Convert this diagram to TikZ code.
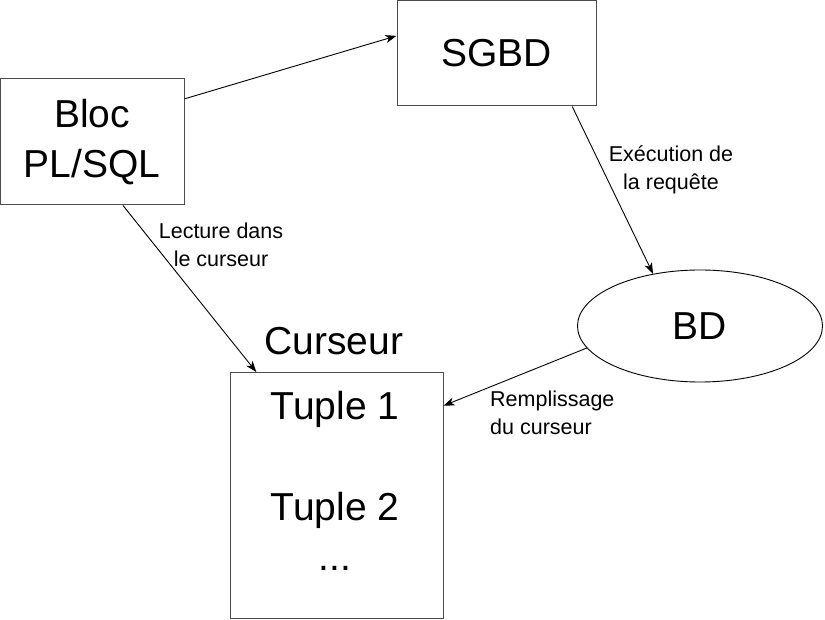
\documentclass[tikz,border=0pt]{standalone}
\usepackage{fontspec}
\setmainfont{Liberation Sans}
\usetikzlibrary{shapes.geometric,arrows.meta}

\tikzset{
  blocbox/.style={draw=black!70, line width=1pt, rectangle, inner sep=0pt, align=center,
    font=\fontsize{39}{50}\selectfont},
  bdshape/.style={draw=black, line width=0.9pt, ellipse, inner sep=0pt,
    font=\fontsize{39}{50}\selectfont},
  bigtext/.style={inner sep=0pt, font=\fontsize{39}{50}\selectfont},
  edgelabel/.style={inner sep=0pt, font=\fontsize{21.5}{27.5}\selectfont},
  fleche/.style={draw=black, line width=0.9pt, -{Stealth[length=11pt,width=8pt,inset=3pt]}}
}

\begin{document}
\begin{tikzpicture}[x=1pt,y=-1pt]
      % Page frame
      \useasboundingbox (0,0) rectangle (825,620);

      % Boxes
      \node[blocbox, minimum width=184pt, minimum height=126pt] (bloc) at (92,142) {Bloc\\PL/SQL};
      \node[blocbox, minimum width=199pt, minimum height=105pt] (sgbd) at (496.5,53.5) {SGBD};
      \node[blocbox, minimum width=213pt, minimum height=246pt] (cur) at (336.5,495.5) {};

      % Database
      \node[bdshape, minimum width=245pt, minimum height=112pt] (bd) at (700,326) {BD};

      % Cursor title and tuples
      \node[bigtext, anchor=base] (curtitle) at (334,355) {Curseur};
      \node[bigtext, anchor=base] (tuple1) at (335,420) {Tuple 1};
      \node[bigtext, anchor=base] (tuple2) at (335,520) {Tuple 2};
      \node[bigtext, anchor=base] (dots) at (335,570) {...};

      % Arrows
      \draw[fleche] (bloc.25) -- (sgbd.170);
      \draw[fleche] (sgbd.-35) -- (bd.132);
      \draw[fleche] (bloc.-64) -- (cur.123);
      \draw[fleche] (bd.191) -- (cur.40);

      % Labels
      \node[edgelabel, align=center] (lblexec) at (671,170) {Exécution de\\la requête};
      \node[edgelabel, align=center] (lbllect) at (221,245) {Lecture dans\\le curseur};
      \node[edgelabel, align=left, anchor=west] (lblrempl) at (490,413) {Remplissage\\du curseur};
    \end{tikzpicture}
\end{document}
